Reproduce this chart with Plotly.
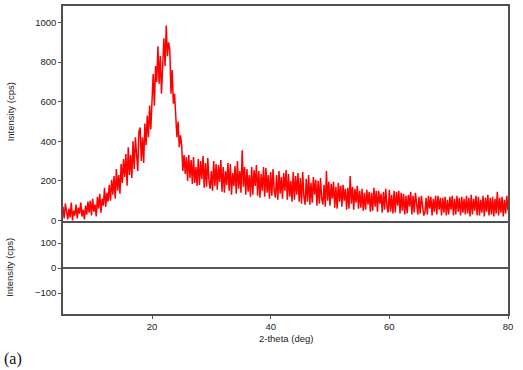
import plotly.graph_objects as go

# 2-theta grid start/step (deg) and intensities (cps)
theta_start = 5.0
theta_step = 0.2
intensity = [
    70, 10, 85, 30, 5,   60, 15, 90, 0, 50,   25, 80, 10, 65, 35,   90, 20, 55, 5, 75,
    30, 95, 40, 100, 25,   110, 45, 80, 20, 120,   60, 135, 40, 110, 75,   165, 70, 140, 95, 180,
    100, 205, 130, 225, 110,   260, 150, 230, 135, 285,   190, 310, 220, 335, 175,   370, 230, 330, 215, 400,
    260, 420, 300, 250, 450,   470, 300, 420, 290, 490,   380, 530, 420, 580, 460,   620, 740, 580, 780, 700,
    880, 690, 830, 640, 790,   920, 780, 985, 830, 900,   860, 640, 760, 590, 640,   540, 420, 500, 370, 430,
    380, 250, 330, 235, 320,   200, 330, 215, 305, 185,   320, 190, 270, 175, 310,   180, 300, 210, 325, 165,
    290, 170, 315, 200, 160,   250, 150, 300, 175, 285,   155, 280, 195, 305, 145,   270, 140, 250, 180, 290,
    150, 285, 130, 240, 175,   275, 135, 300, 160, 250,   140, 355, 170, 270, 130,   260, 145, 230, 120, 270,
    130, 255, 175, 280, 125,   250, 115, 235, 150, 270,   120, 265, 140, 230, 110,   245, 125, 260, 150, 115,
    230, 105, 250, 135, 220,   110, 240, 150, 255, 105,   235, 120, 200, 95, 245,   105, 225, 130, 240, 95,
    215, 85, 245, 120, 80,   210, 95, 230, 80, 190,   90, 220, 130, 205, 75,   200, 85, 215, 110, 80,
    180, 70, 250, 100, 195,   75, 185, 110, 195, 65,   170, 60, 190, 95, 175,   70, 180, 100, 160, 55,
    165, 60, 225, 85, 170,   55, 160, 90, 175, 60,   150, 65, 160, 50, 140,   55, 155, 80, 145, 45,
    140, 50, 165, 70, 150,   45, 150, 85, 135, 40,   145, 55, 160, 70, 40,   155, 45, 130, 35, 150,
    40, 145, 75, 150, 35,   140, 50, 135, 30, 125,   35, 130, 70, 145, 30,   125, 40, 140, 60, 30,
    120, 35, 125, 55, 25,   40, 115, 30, 125, 60,   120, 25, 110, 45, 125,   30, 125, 55, 115, 25,
    115, 40, 120, 25, 105,   30, 120, 55, 125, 25,   110, 30, 125, 45, 115,   25, 120, 40, 110, 30,
    125, 35, 115, 20, 130,   30, 110, 50, 125, 25,   120, 25, 105, 40, 125,   20, 115, 45, 130, 25,
    115, 30, 120, 20, 110,   35, 145, 25, 115, 40,   120, 20, 105, 35, 125,   50,
]
two_theta = [theta_start + i * theta_step for i in range(len(intensity))]
difference = [0 for _ in intensity]

top_ticks = [0, 200, 400, 600, 800, 1000]
diff_ticks = [-100, 0, 100]
x_ticks = [20, 40, 60, 80]

axis_col = "#505050"
font_col = "#222222"
fsize = 9.5

fig = go.Figure()
fig.add_trace(go.Scatter(x=two_theta, y=intensity, mode="lines",
                         line=dict(color="#ff0000", width=1.5),
                         xaxis="x2", yaxis="y2", showlegend=False))
fig.add_trace(go.Scatter(x=two_theta, y=difference, mode="lines",
                         line=dict(color="#222222", width=1.3),
                         xaxis="x", yaxis="y", showlegend=False))

fig.update_layout(
    width=523, height=370,
    margin=dict(l=63, r=15, t=4, b=56),
    paper_bgcolor="white", plot_bgcolor="white",
    font=dict(family="Liberation Sans, Arial, sans-serif", size=fsize, color=font_col),
    xaxis=dict(domain=[0, 1], range=[5, 80], anchor="y",
               tickvals=x_ticks, ticks="outside", ticklen=3, tickcolor=axis_col,
               showline=True, linecolor=axis_col, linewidth=1.5, mirror=False,
               showgrid=False, zeroline=False),
    yaxis=dict(domain=[0, 0.301], range=[-184, 187], anchor="x",
               tickvals=diff_ticks, ticks="outside", ticklen=3, tickcolor=axis_col,
               showline=True, linecolor=axis_col, linewidth=1.5, mirror=True,
               showgrid=False, zeroline=False),
    xaxis2=dict(domain=[0, 1], range=[5, 80], anchor="y2",
                showticklabels=False, ticks="",
                showline=True, linecolor=axis_col, linewidth=1.5, mirror=True,
                showgrid=False, zeroline=False),
    yaxis2=dict(domain=[0.301, 1], range=[-4, 1083], anchor="x2",
                tickvals=top_ticks, ticks="outside", ticklen=3, tickcolor=axis_col,
                showline=True, linecolor=axis_col, linewidth=1.5, mirror=True,
                showgrid=False, zeroline=False),
    annotations=[
        dict(text="Intensity (cps)", xref="paper", yref="paper",
             x=-0.119, y=0.655, xanchor="center", yanchor="middle",
             textangle=-90, showarrow=False,
             font=dict(size=fsize, color=font_col)),
        dict(text="Intensity (cps)", xref="paper", yref="paper",
             x=-0.119, y=0.15, xanchor="center", yanchor="middle",
             textangle=-90, showarrow=False,
             font=dict(size=fsize, color=font_col)),
        dict(text="2-theta (deg)", xref="paper", yref="paper",
             x=0.5, y=-0.081, xanchor="center", yanchor="middle", showarrow=False,
             font=dict(size=fsize, color=font_col)),
        dict(text="(a)", xref="paper", yref="paper",
             x=-0.137, y=-0.11, xanchor="left", yanchor="top", showarrow=False,
             font=dict(family="Liberation Serif, Times New Roman, serif", size=16,
                       color="#111111")),
    ],
)

fig.write_html("out.html", config={"displayModeBar": False},
               post_script="document.body.style.margin='0px';")
